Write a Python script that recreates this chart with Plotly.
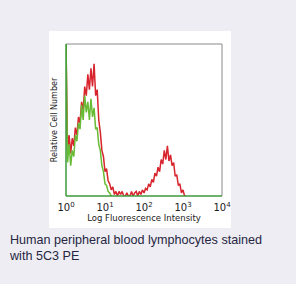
import plotly.graph_objects as go

STEP = 0.04  # decade width of each histogram channel

red_counts = [1.0, 0.30, 0.40, 0.28, 0.38, 0.33, 0.45, 0.40, 0.52, 0.48,
              0.62, 0.56, 0.72, 0.66, 0.80, 0.70, 0.84, 0.72, 0.87, 0.66,
              0.70, 0.50, 0.42, 0.30, 0.26, 0.16, 0.18, 0.10, 0.08, 0.04,
              0.06, 0.01, 0.03, 0.0, 0.03, 0.01, 0.03, 0.0, 0.0, 0.02,
              0.0, 0.0, 0.03, 0.0, 0.02, 0.03, 0.0, 0.03, 0.01, 0.04,
              0.02, 0.05, 0.04, 0.08, 0.06, 0.11, 0.09, 0.15, 0.13, 0.19,
              0.16, 0.24, 0.21, 0.30, 0.24, 0.33, 0.23, 0.27, 0.20, 0.22,
              0.13, 0.14, 0.07, 0.08, 0.02, 0.04, 0.0, 0.0]

green_counts = [1.0, 0.22, 0.34, 0.20, 0.30, 0.26, 0.40, 0.36, 0.48, 0.44,
                0.60, 0.50, 0.66, 0.55, 0.62, 0.50, 0.64, 0.52, 0.58, 0.44,
                0.45, 0.34, 0.30, 0.20, 0.16, 0.08, 0.07, 0.03, 0.02, 0.0]

tick_vals = [1, 10, 100, 1000, 10000]
tick_text = ["10<sup>0</sup>", "10<sup>1</sup>", "10<sup>2</sup>", "10<sup>3</sup>", "10<sup>4</sup>"]

caption = "Human peripheral blood lymphocytes stained<br>with 5C3 PE"

red_x = [10 ** (i * STEP) for i in range(len(red_counts))]
green_x = [10 ** (i * STEP) for i in range(len(green_counts))]

fig = go.Figure()
fig.add_trace(go.Scatter(x=red_x, y=red_counts, mode="lines",
                         line=dict(color="#d8242c", width=1.5), hoverinfo="skip"))
fig.add_trace(go.Scatter(x=green_x, y=green_counts, mode="lines",
                         line=dict(color="#68bb34", width=1.5), hoverinfo="skip"))

# white panel behind the chart
fig.add_shape(type="rect", xref="paper", yref="paper",
              x0=-0.109, x1=1.058, y0=-0.2105, y1=1.086,
              fillcolor="white", line=dict(width=0), layer="below")
# frame: gray top/right, green bottom/left
fig.add_shape(type="line", xref="paper", yref="paper", x0=0, x1=1, y0=1, y1=1,
              line=dict(color="#8a8a8a", width=1))
fig.add_shape(type="line", xref="paper", yref="paper", x0=1, x1=1, y0=0, y1=1,
              line=dict(color="#8a8a8a", width=1))
fig.add_shape(type="line", xref="paper", yref="paper", x0=0, x1=1, y0=0, y1=0,
              line=dict(color="#3d9a3a", width=1.5))
fig.add_shape(type="line", xref="paper", yref="paper", x0=0, x1=0, y0=0, y1=1,
              line=dict(color="#3d9a3a", width=1.5))

fig.add_annotation(text=caption, xref="paper", yref="paper",
                   x=-0.378, y=-0.232, xanchor="left", yanchor="top",
                   align="left", showarrow=False,
                   font=dict(family="Liberation Sans, Arial", size=12.6, color="#262642"))

fig.update_xaxes(type="log", range=[0, 4], tickvals=tick_vals, ticktext=tick_text,
                 showgrid=False, zeroline=False, showline=False, ticks="",
                 ticklabelstandoff=4,
                 tickfont=dict(family="DejaVu Sans", size=10, color="#222"),
                 title=dict(text="Log Fluorescence Intensity", standoff=1,
                            font=dict(family="DejaVu Sans", size=8.5, color="#222")))
fig.update_yaxes(range=[0, 1.0], showticklabels=False, showgrid=False, zeroline=False,
                 showline=False, ticks="",
                 title=dict(text="Relative Cell Number", standoff=6,
                            font=dict(family="DejaVu Sans", size=8, color="#222")))

fig.update_layout(width=296, height=284, showlegend=False,
                  margin=dict(l=66, r=74, t=44, b=88),
                  paper_bgcolor="#eeedf3", plot_bgcolor="white")

fig.write_html("out.html")
